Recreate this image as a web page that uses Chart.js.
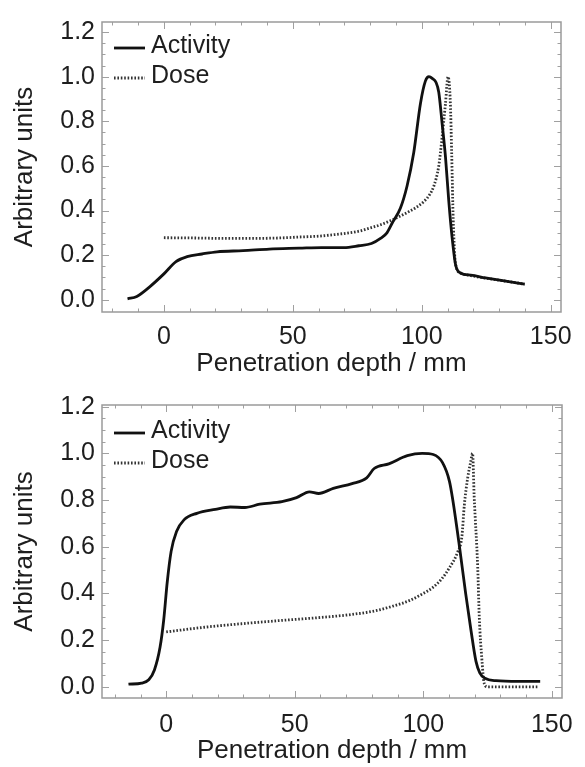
<!DOCTYPE html>
<html>
<head>
<meta charset="utf-8">
<script src="https://cdn.jsdelivr.net/npm/chart.js@4.4.1/dist/chart.umd.min.js"></script>
<style>
  html, body { margin: 0; padding: 0; background: #fff; }
  #wrap { position: relative; width: 585px; height: 767px; }
  #c1 { position: absolute; left: 0; top: 0; }
  #c2 { position: absolute; left: 0; top: 383px; }
</style>
</head>
<body>
<div id="wrap">
  <canvas id="c1" width="585" height="383"></canvas>
  <canvas id="c2" width="585" height="384"></canvas>
</div>
<script>
// ---------- Data ----------
const seriesNames = ["Activity", "Dose"];
const xTickLabels = [0, 50, 100, 150];
const yTickLabels = [0.0, 0.2, 0.4, 0.6, 0.8, 1.0, 1.2];

// Top panel
const topActivityX = [-14.1, -10.5, -5.4, 0.1, 4.7, 9.0, 14.8, 20.6, 30.7, 40.9, 52.4, 61.1, 69.8, 75.6, 80.5, 84, 86.5, 88.6, 91.7, 94.3, 96.9, 99.5, 101.4, 102.8, 104.3, 105.5, 106.6, 107.9, 109.2, 110.5, 111.8, 113.1, 115, 119, 124.7, 132, 139.9];
const topActivityY = [0.004, 0.015, 0.059, 0.117, 0.171, 0.193, 0.205, 0.215, 0.22, 0.227, 0.231, 0.234, 0.234, 0.242, 0.252, 0.275, 0.30, 0.345, 0.41, 0.51, 0.66, 0.88, 0.98, 1.0, 0.99, 0.975, 0.93, 0.79, 0.64, 0.44, 0.276, 0.158, 0.12, 0.11, 0.098, 0.084, 0.07];
const topDoseX = [0, 10, 23.5, 35, 45, 52.5, 60, 67, 72, 76, 80, 84, 88, 91.7, 95, 98, 100.8, 103, 104.7, 106.6, 107.9, 109.2, 110.2, 111.1, 111.6, 112.2, 113.1, 115, 119, 124.7, 132, 139.9];
const topDoseY = [0.278, 0.277, 0.275, 0.275, 0.277, 0.281, 0.285, 0.293, 0.30, 0.308, 0.322, 0.336, 0.355, 0.375, 0.395, 0.415, 0.44, 0.47, 0.51, 0.60, 0.73, 0.88, 1.0, 0.88, 0.66, 0.36, 0.16, 0.12, 0.108, 0.097, 0.084, 0.07];

// Bottom panel
const botActivityX = [-14.7, -9.6, -6.8, -4.6, -2.4, -1.0, 0.4, 1.9, 4.0, 6.9, 11.9, 19.1, 24.9, 30.6, 36.4, 45, 50.7, 55.7, 59.3, 65, 72.3, 78, 80.9, 86.6, 93.8, 99.6, 103.9, 107.5, 110.2, 111.5, 114.1, 116.5, 118.6, 120.5, 122, 124, 128.3, 136.9, 145.5];
const botActivityY = [0.011, 0.016, 0.03, 0.072, 0.17, 0.285, 0.45, 0.58, 0.665, 0.715, 0.743, 0.76, 0.77, 0.768, 0.782, 0.793, 0.81, 0.835, 0.828, 0.85, 0.87, 0.895, 0.935, 0.955, 0.99, 1.0, 0.995, 0.96, 0.88, 0.80, 0.60, 0.40, 0.24, 0.11, 0.06, 0.037, 0.026, 0.023, 0.023];
const botDoseX = [0, 14.8, 29.2, 43.5, 57.9, 72.3, 82, 88, 94.8, 100, 103.8, 107, 110.2, 113.5, 115, 116, 117.3, 118.4, 119.2, 119.8, 121.2, 121.8, 122.8, 123.7, 125, 145];
const botDoseY = [0.235, 0.255, 0.27, 0.283, 0.295, 0.31, 0.327, 0.345, 0.37, 0.40, 0.426, 0.46, 0.51, 0.58, 0.64, 0.78, 0.895, 0.96, 1.0, 0.82, 0.51, 0.30, 0.12, 0.016, 0.0, 0.0];

// ---------- Helpers ----------
function pts(xs, ys) { return xs.map((x, i) => ({ x: x, y: ys[i] })); }

const FONT = "'Liberation Sans', Arial, Helvetica, sans-serif";
const TXT = '#1e1e1e';

const framePlugin = {
  id: 'frameTicks',
  afterDatasetsDraw(chart) {
    const ctx = chart.ctx;
    const { left, right, top, bottom } = chart.chartArea;
    const xs = chart.scales.x, ys = chart.scales.y;
    ctx.save();
    ctx.strokeStyle = '#a0a0a0';
    ctx.lineWidth = 1;
    for (let v = -20; v <= 150; v += 10) {
      const px = Math.round(xs.getPixelForValue(v)) + 0.5;
      const len = (v % 50 === 0) ? 7 : 3.5;
      ctx.beginPath();
      ctx.moveTo(px, bottom); ctx.lineTo(px, bottom - len);
      ctx.moveTo(px, top); ctx.lineTo(px, top + len);
      ctx.stroke();
    }
    for (let k = 0; k <= 24; k++) {
      const v = k * 0.05;
      const py = Math.round(ys.getPixelForValue(v)) + 0.5;
      const len = (k % 4 === 0) ? 7 : 3.5;
      ctx.beginPath();
      ctx.moveTo(left, py); ctx.lineTo(left + len, py);
      ctx.moveTo(right, py); ctx.lineTo(right - len, py);
      ctx.stroke();
    }
    ctx.lineWidth = 1.5;
    ctx.strokeStyle = '#9a9a9a';
    ctx.strokeRect(left, top, right - left, bottom - top);

    // legend inside chart area
    const opts = chart.options.plugins.frameTicks;
    const ds = chart.data.datasets;
    ctx.font = '25px ' + FONT;
    ctx.textBaseline = 'middle';
    ctx.textAlign = 'left';
    ds.forEach((d, i) => {
      const y = top + opts.legendTop + i * 30;
      ctx.save();
      ctx.strokeStyle = d.borderColor;
      ctx.lineWidth = d.borderWidth;
      ctx.setLineDash(d.borderDash || []);
      ctx.beginPath();
      ctx.moveTo(left + 12, y + 2);
      ctx.lineTo(left + 43, y + 2);
      ctx.stroke();
      ctx.restore();
      ctx.fillStyle = TXT;
      ctx.fillText(d.label, left + 49, y);
    });
    ctx.restore();
  }
};

function makeChart(canvasId, actX, actY, doseX, doseY, cfg) {
  return new Chart(document.getElementById(canvasId), {
    type: 'line',
    data: {
      datasets: [
        {
          label: seriesNames[0],
          data: pts(actX, actY),
          borderColor: '#111111',
          borderWidth: 2.8,
          pointRadius: 0,
          cubicInterpolationMode: 'monotone',
          fill: false
        },
        {
          label: seriesNames[1],
          data: pts(doseX, doseY),
          borderColor: '#333333',
          borderWidth: 2.8,
          borderDash: [1.6, 1.8],
          pointRadius: 0,
          cubicInterpolationMode: 'monotone',
          fill: false
        }
      ]
    },
    options: {
      responsive: false,
      animation: false,
      devicePixelRatio: 1,
      layout: { padding: { left: 0, right: cfg.padRight, top: cfg.padTop, bottom: 0 } },
      plugins: {
        legend: { display: false },
        tooltip: { enabled: false },
        frameTicks: { legendTop: cfg.legendTop }
      },
      scales: {
        x: {
          type: 'linear',
          min: cfg.xMin, max: cfg.xMax,
          grid: { display: false, drawTicks: false },
          border: { display: false },
          afterBuildTicks: (s) => { s.ticks = xTickLabels.map(v => ({ value: v })); },
          afterFit: (s) => { s.height = cfg.xHeight; },
          ticks: {
            padding: cfg.xTickPad,
            color: TXT,
            font: { family: FONT, size: 25 },
            maxRotation: 0,
            callback: (v) => String(v)
          },
          title: {
            display: true,
            text: 'Penetration depth / mm',
            color: TXT,
            font: { family: FONT, size: 26 },
            padding: { top: 0, bottom: cfg.xTitlePad }
          }
        },
        y: {
          type: 'linear',
          min: cfg.yMin, max: cfg.yMax,
          grid: { display: false, drawTicks: false },
          border: { display: false },
          afterBuildTicks: (s) => { s.ticks = yTickLabels.map(v => ({ value: v })); },
          afterFit: (s) => { s.width = cfg.yWidth; },
          ticks: {
            padding: 7,
            color: TXT,
            font: { family: FONT, size: 25 },
            callback: (v) => Number(v).toFixed(1)
          },
          title: {
            display: true,
            text: 'Arbitrary units',
            color: TXT,
            font: { family: FONT, size: 26 },
            padding: { top: 9, bottom: 0 }
          }
        }
      }
    },
    plugins: [framePlugin]
  });
}

makeChart('c1', topActivityX, topActivityY, topDoseX, topDoseY, {
  xMin: -24, xMax: 154, yMin: -0.055, yMax: 1.245,
  padRight: 24, padTop: 18, xHeight: 71, yWidth: 102,
  xTickPad: 10, xTitlePad: 4, legendTop: 24
});
makeChart('c2', botActivityX, botActivityY, botDoseX, botDoseY, {
  xMin: -25, xMax: 154, yMin: -0.048, yMax: 1.207,
  padRight: 18, padTop: 20, xHeight: 69, yWidth: 102,
  xTickPad: 12, xTitlePad: 1, legendTop: 26
});
</script>
</body>
</html>
